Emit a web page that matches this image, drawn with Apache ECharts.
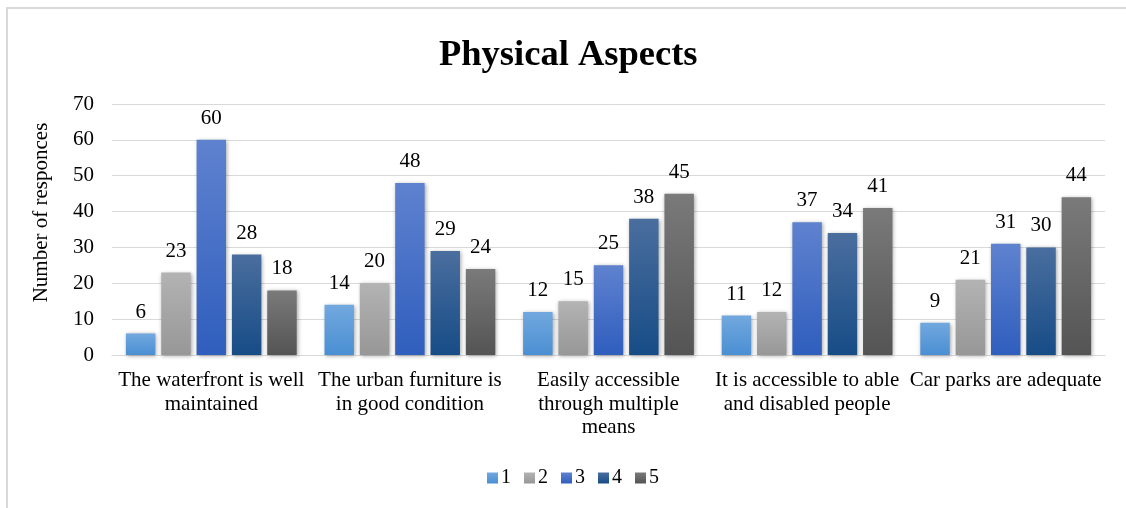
<!DOCTYPE html>
<html>
<head>
<meta charset="utf-8">
<script src="https://cdn.jsdelivr.net/npm/echarts@6/dist/echarts.min.js"></script>
<style>
    html, body { margin: 0; padding: 0; background: #fff; }
    #chart { width: 1126px; height: 508px; }
</style>
</head>
<body>
<div id="chart"></div>
<script>
const categories = [
    "The waterfront is well\nmaintained",
    "The urban furniture is\nin good condition",
    "Easily accessible\nthrough multiple\nmeans",
    "It is accessible to able\nand disabled people",
    "Car parks are adequate"
];
const seriesNames = ["1", "2", "3", "4", "5"];
const rating1 = [6, 14, 12, 11, 9];
const rating2 = [23, 20, 15, 12, 21];
const rating3 = [60, 48, 25, 37, 31];
const rating4 = [28, 29, 38, 34, 30];
const rating5 = [18, 24, 45, 41, 44];

// top / bottom gradient colours per series
const colors = [
    ["#72a8de", "#4a8fd3"],
    ["#b3b3b3", "#979797"],
    ["#5f82cf", "#2f5ebd"],
    ["#4a6e9e", "#174c86"],
    ["#7a7a7a", "#545454"]
];
const font = "'Liberation Serif', 'Times New Roman', serif";

function grad(c) {
    return new echarts.graphic.LinearGradient(0, 0, 0, 1, [
        { offset: 0, color: c[0] },
        { offset: 1, color: c[1] }
    ]);
}

const allData = [rating1, rating2, rating3, rating4, rating5];

const chart = echarts.init(document.getElementById("chart"));
chart.setOption({
    animation: false,
    textStyle: { fontFamily: font },
    graphic: [{
        type: "rect",
        shape: { x: 7, y: 8, width: 1140, height: 520 },
        style: { fill: null, stroke: "#d9d9d9", lineWidth: 2 }
    }],
    title: {
        text: "Physical Aspects",
        left: 434,
        top: 32,
        textStyle: { fontFamily: font, fontSize: 36.5, fontWeight: "bold", color: "#000" }
    },
    legend: {
        bottom: 15,
        left: 482,
        itemWidth: 11,
        itemHeight: 11,
        itemGap: 13,
        icon: "rect",
        textStyle: { fontFamily: font, fontSize: 20, color: "#000", padding: [0, 0, 0, -2] },
        data: seriesNames
    },
    grid: { left: 112, right: 21, top: 104, bottom: 153 },
    xAxis: {
        type: "category",
        data: categories,
        axisTick: { show: false },
        axisLine: { lineStyle: { color: "#d9d9d9", width: 1 } },
        axisLabel: {
            interval: 0,
            margin: 14,
            fontFamily: font,
            fontSize: 21,
            lineHeight: 23.5,
            color: "#000"
        }
    },
    yAxis: {
        type: "value",
        min: 0,
        max: 70,
        interval: 10,
        name: "Number of responces",
        nameLocation: "middle",
        nameGap: 60,
        nameTextStyle: { fontFamily: font, fontSize: 21, color: "#000", padding: [0, 0, 0, 34] },
        axisLabel: { margin: 18, fontFamily: font, fontSize: 21, color: "#000" },
        splitLine: { lineStyle: { color: "#d9d9d9", width: 1 } }
    },
    series: allData.map((d, i) => ({
        name: seriesNames[i],
        type: "bar",
        data: d,
        barGap: "20%",
        barCategoryGap: "14%",
        itemStyle: {
            color: grad(colors[i]),
            shadowBlur: 4,
            shadowColor: "rgba(0,0,0,0.35)",
            shadowOffsetX: 1,
            shadowOffsetY: 1
        },
        label: {
            show: true,
            position: "top",
            distance: 11,
            fontFamily: font,
            fontSize: 21,
            color: "#000"
        }
    }))
});
</script>
</body>
</html>
